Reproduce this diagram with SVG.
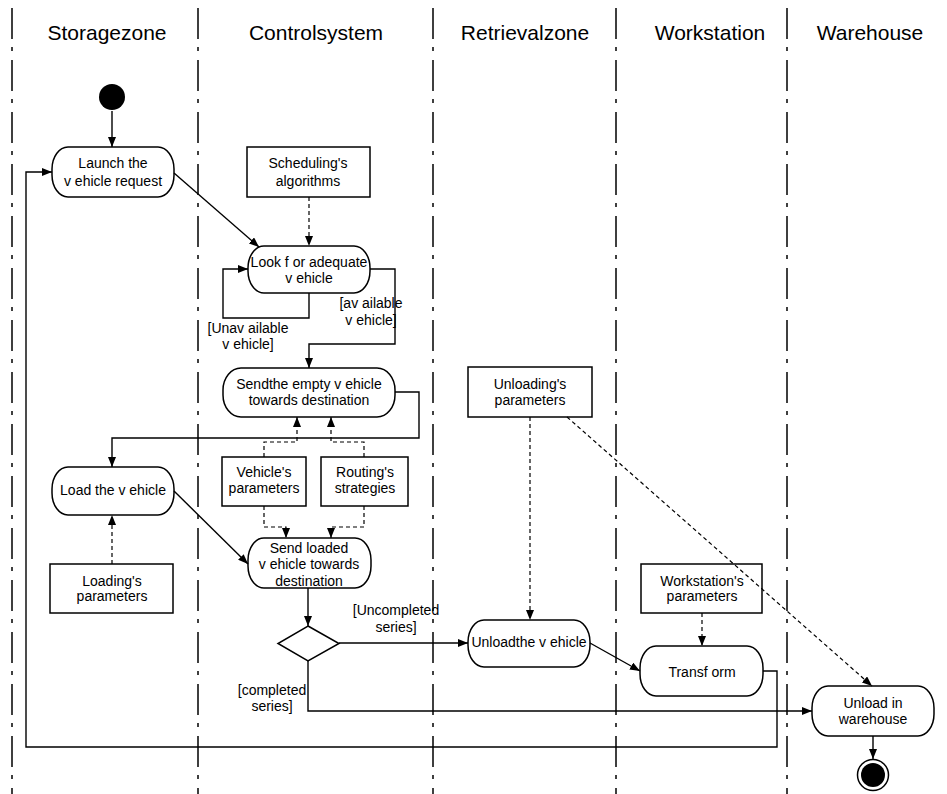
<svg xmlns="http://www.w3.org/2000/svg" width="947" height="794" viewBox="0 0 947 794">
<style>
.lane{stroke:#000;stroke-width:1.5;stroke-dasharray:31 8 4 9;fill:none}
.hdr{font-family:"Liberation Sans",Arial,sans-serif;font-size:21px;fill:#000;text-anchor:middle}
.t{font-family:"Liberation Sans",Arial,sans-serif;font-size:14px;fill:#000;text-anchor:middle}
.act{fill:#fff;stroke:#000;stroke-width:1.5}
.obj{fill:#fff;stroke:#000;stroke-width:1.5}
.c{fill:none;stroke:#000;stroke-width:1.4}
.d{fill:none;stroke:#000;stroke-width:1.2;stroke-dasharray:4 3}
</style>
<defs>
<marker id="ah" markerUnits="userSpaceOnUse" markerWidth="10" markerHeight="8" refX="10" refY="4" orient="auto">
<path d="M0,0 L10,4 L0,8 z" fill="#000"/>
</marker>
</defs>
<rect width="947" height="794" fill="#fff"/>
<g id="lanes">
<line class="lane" x1="12" y1="8" x2="12" y2="794"/>
<line class="lane" x1="198" y1="8" x2="198" y2="794"/>
<line class="lane" x1="433" y1="8" x2="433" y2="794"/>
<line class="lane" x1="616" y1="8" x2="616" y2="794"/>
<line class="lane" x1="787" y1="8" x2="787" y2="794"/>
<text class="hdr" x="107" y="40">Storagezone</text>
<text class="hdr" x="316" y="40">Controlsystem</text>
<text class="hdr" x="525" y="40">Retrievalzone</text>
<text class="hdr" x="710" y="40">Workstation</text>
<text class="hdr" x="870" y="40">Warehouse</text>
</g>
<g id="start"><circle cx="112" cy="97" r="13" fill="#000"/></g>
<g id="launch"><rect class="act" x="52" y="147" width="122" height="50" rx="16" ry="22"/>
<text class="t" x="113" y="168">Launch the</text><text class="t" x="113" y="186">v ehicle request</text></g>
<g id="scheduling"><rect class="obj" x="247" y="147" width="123" height="50"/>
<text class="t" x="308" y="168">Scheduling's</text><text class="t" x="308" y="186">algorithms</text></g>
<g id="look"><rect class="act" x="248" y="246" width="122" height="47" rx="16" ry="22"/>
<text class="t" x="309" y="267">Look f or adequate</text><text class="t" x="309" y="283">v ehicle</text></g>
<g id="sendempty"><rect class="act" x="223" y="368" width="172" height="49" rx="18" ry="22"/>
<text class="t" x="309" y="389">Sendthe empty v ehicle</text><text class="t" x="309" y="405">towards  destination</text></g>
<g id="vehicleparams"><rect class="obj" x="222" y="457" width="84" height="49"/>
<text class="t" x="264" y="477">Vehicle's</text><text class="t" x="264" y="493">parameters</text></g>
<g id="routing"><rect class="obj" x="321" y="457" width="87" height="49"/>
<text class="t" x="365" y="477">Routing's</text><text class="t" x="365" y="493">strategies</text></g>
<g id="load"><rect class="act" x="52" y="467" width="122" height="48" rx="16" ry="22"/>
<text class="t" x="113" y="495">Load the v ehicle</text></g>
<g id="loadingparams"><rect class="obj" x="50" y="564" width="123" height="49"/>
<text class="t" x="112" y="586">Loading's</text><text class="t" x="112" y="601">parameters</text></g>
<g id="sendloaded"><rect class="act" x="248" y="538" width="123" height="50" rx="16" ry="22"/>
<text class="t" x="309" y="553">Send loaded</text><text class="t" x="309" y="569">v ehicle towards</text><text class="t" x="309" y="586">destination</text></g>
<g id="decision"><polygon class="act" points="308,626 339,643.5 308,661 278,643.5"/></g>
<g id="unloadingparams"><rect class="obj" x="468" y="367" width="124" height="50"/>
<text class="t" x="530" y="389">Unloading's</text><text class="t" x="530" y="405">parameters</text></g>
<g id="unload"><rect class="act" x="468" y="620" width="122" height="47" rx="16" ry="22"/>
<text class="t" x="529" y="647">Unloadthe v ehicle</text></g>
<g id="workstationparams"><rect class="obj" x="641" y="564" width="121" height="49"/>
<text class="t" x="702" y="586">Workstation's</text><text class="t" x="702" y="601">parameters</text></g>
<g id="transform"><rect class="act" x="640" y="646" width="123" height="50" rx="16" ry="22"/>
<text class="t" x="702" y="677">Transf orm</text></g>
<g id="unloadwarehouse"><rect class="act" x="812" y="686" width="122" height="50" rx="16" ry="22"/>
<text class="t" x="873" y="708">Unload in</text><text class="t" x="873" y="724">warehouse</text></g>
<g id="end"><circle cx="873" cy="775" r="15.5" fill="#fff" stroke="#000" stroke-width="1.5"/><circle cx="873" cy="775" r="12" fill="#000"/></g>
<g id="connectors">
<path class="c" d="M112,111 V147" marker-end="url(#ah)"/>
<path class="c" d="M174,173 L259,247" marker-end="url(#ah)"/>
<path class="d" d="M309,197 V246" marker-end="url(#ah)"/>
<path class="c" d="M309,293 V318 H223 V269 H248" marker-end="url(#ah)"/>
<path class="c" d="M370,269 H395 V344 H309 V368" marker-end="url(#ah)"/>
<path class="c" d="M395,392 H419 V438 H112 V467" marker-end="url(#ah)"/>
<path class="d" d="M264,457 V442 H297 V417" marker-end="url(#ah)"/>
<path class="d" d="M364,457 V442 H331 V417" marker-end="url(#ah)"/>
<path class="d" d="M264,506 V527 H286 V538" marker-end="url(#ah)"/>
<path class="d" d="M364,506 V527 H331 V538" marker-end="url(#ah)"/>
<path class="d" d="M112,564 V515" marker-end="url(#ah)"/>
<path class="c" d="M174,491 L248,564" marker-end="url(#ah)"/>
<path class="c" d="M308,588 V626" marker-end="url(#ah)"/>
<path class="c" d="M339,643 H468" marker-end="url(#ah)"/>
<path class="c" d="M308,661 V711 H812" marker-end="url(#ah)"/>
<path class="d" d="M530,417 V620" marker-end="url(#ah)"/>
<path class="d" d="M567,417 L872,686" marker-end="url(#ah)"/>
<path class="c" d="M590,643 L640,671" marker-end="url(#ah)"/>
<path class="d" d="M702,613 V646" marker-end="url(#ah)"/>
<path class="c" d="M763,671 H777 V747 H26 V172 H52" marker-end="url(#ah)"/>
<path class="c" d="M873,736 V759" marker-end="url(#ah)"/>
<text class="t" x="248" y="333">[Unav ailable</text>
<text class="t" x="248" y="349">v ehicle]</text>
<text class="t" x="371" y="308">[av ailable</text>
<text class="t" x="371" y="325">v ehicle]</text>
<text class="t" x="396" y="615">[Uncompleted</text>
<text class="t" x="396" y="632">series]</text>
<text class="t" x="272" y="695">[completed</text>
<text class="t" x="272" y="711">series]</text>
</g>
</svg>
